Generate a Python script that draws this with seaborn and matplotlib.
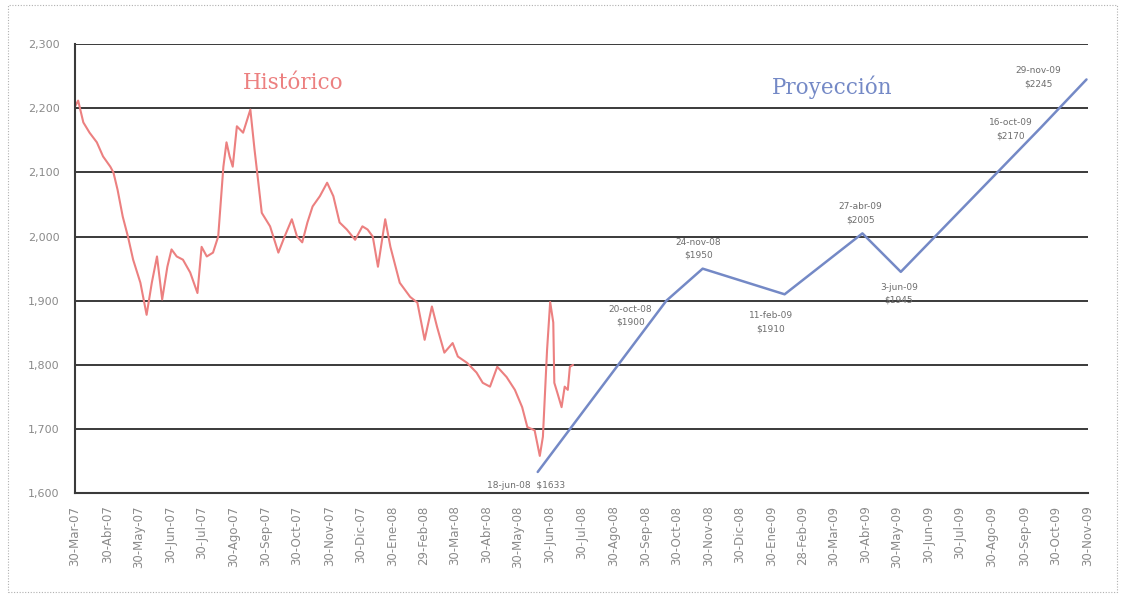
import matplotlib
matplotlib.use("Agg")
import matplotlib.pyplot as plt
import matplotlib.ticker as mticker
from matplotlib.patches import Rectangle
import pandas as pd
import seaborn as sns

# Historical price series
hist_dates = [
    "2007-03-30", "2007-04-02", "2007-04-07", "2007-04-13", "2007-04-20", "2007-04-26",
    "2007-05-03", "2007-05-06", "2007-05-10", "2007-05-15", "2007-05-20", "2007-05-25",
    "2007-06-01", "2007-06-07", "2007-06-12", "2007-06-17", "2007-06-22", "2007-06-27",
    "2007-07-01", "2007-07-06", "2007-07-12", "2007-07-19", "2007-07-26", "2007-07-30",
    "2007-08-04", "2007-08-10", "2007-08-15", "2007-08-20", "2007-08-23", "2007-08-26",
    "2007-08-29", "2007-09-02", "2007-09-08", "2007-09-15", "2007-09-19", "2007-09-22",
    "2007-09-26", "2007-10-04", "2007-10-12", "2007-10-18", "2007-10-25", "2007-10-30",
    "2007-11-04", "2007-11-09", "2007-11-14", "2007-11-21", "2007-11-28", "2007-12-04",
    "2007-12-10", "2007-12-17", "2007-12-25", "2008-01-01", "2008-01-06", "2008-01-11",
    "2008-01-16", "2008-01-23", "2008-01-28", "2008-02-06", "2008-02-16", "2008-02-23",
    "2008-03-01", "2008-03-08", "2008-03-13", "2008-03-20", "2008-03-28", "2008-04-02",
    "2008-04-11", "2008-04-20", "2008-04-26", "2008-05-03", "2008-05-10", "2008-05-19",
    "2008-05-27", "2008-06-03", "2008-06-08", "2008-06-15", "2008-06-20", "2008-06-23",
    "2008-06-27", "2008-06-30", "2008-07-03", "2008-07-04", "2008-07-07", "2008-07-11",
    "2008-07-14", "2008-07-17", "2008-07-19", "2008-07-22",
]
hist_values = [
    2203, 2212, 2178, 2162, 2147, 2125,
    2109, 2100, 2073, 2031, 2000, 1964,
    1928, 1878, 1928, 1969, 1902, 1953,
    1980, 1969, 1964, 1944, 1912, 1984,
    1969, 1975, 2000, 2109, 2147, 2125,
    2109, 2172, 2162, 2198, 2136, 2094,
    2037, 2016, 1975, 2000, 2027, 2000,
    1991, 2022, 2047, 2063, 2084, 2063,
    2022, 2011, 1995, 2016, 2011, 2000,
    1953, 2027, 1984, 1928, 1906, 1897,
    1839, 1891, 1859, 1819, 1834, 1813,
    1803, 1788, 1772, 1766, 1797, 1781,
    1761, 1734, 1703, 1698, 1658, 1688,
    1823, 1898, 1866, 1772, 1756, 1734,
    1766, 1761, 1797, 1800,
]

# Projection milestones
proj_dates = ["2008-06-18", "2008-10-20", "2008-11-24", "2009-02-11",
              "2009-04-27", "2009-06-03", "2009-10-16", "2009-11-29"]
proj_values = [1633, 1900, 1950, 1910, 2005, 1945, 2170, 2245]
proj_names = ["18-jun-08", "20-oct-08", "24-nov-08", "11-feb-09",
              "27-abr-09", "3-jun-09", "16-oct-09", "29-nov-09"]

# Axis tick dates and labels
tick_dates = [
    "2007-03-30", "2007-04-30", "2007-05-30", "2007-06-30", "2007-07-30", "2007-08-30",
    "2007-09-30", "2007-10-30", "2007-11-30", "2007-12-30", "2008-01-30", "2008-02-29",
    "2008-03-30", "2008-04-30", "2008-05-30", "2008-06-30", "2008-07-30", "2008-08-30",
    "2008-09-30", "2008-10-30", "2008-11-30", "2008-12-30", "2009-01-30", "2009-02-28",
    "2009-03-30", "2009-04-30", "2009-05-30", "2009-06-30", "2009-07-30", "2009-08-30",
    "2009-09-30", "2009-10-30", "2009-11-30",
]
tick_labels = [
    "30-Mar-07", "30-Abr-07", "30-May-07", "30-Jun-07", "30-Jul-07", "30-Ago-07",
    "30-Sep-07", "30-Oct-07", "30-Nov-07", "30-Dic-07", "30-Ene-08", "29-Feb-08",
    "30-Mar-08", "30-Abr-08", "30-May-08", "30-Jun-08", "30-Jul-08", "30-Ago-08",
    "30-Sep-08", "30-Oct-08", "30-Nov-08", "30-Dic-08", "30-Ene-09", "28-Feb-09",
    "30-Mar-09", "30-Abr-09", "30-May-09", "30-Jun-09", "30-Jul-09", "30-Ago-09",
    "30-Sep-09", "30-Oct-09", "30-Nov-09",
]
y_ticks = [1600, 1700, 1800, 1900, 2000, 2100, 2200, 2300]

RED = "#ec8080"
BLUE = "#7489c6"
GRID = "#3a3a3a"
LABEL = "#8a8a8a"

sns.set_theme(style="white")
plt.rcParams["font.family"] = ["DejaVu Sans"]

hist = pd.DataFrame({"fecha": pd.to_datetime(hist_dates), "precio": hist_values})
proj = pd.DataFrame({"fecha": pd.to_datetime(proj_dates), "precio": proj_values})

fig = plt.figure(figsize=(11.25, 5.97), dpi=100)
ax = fig.add_axes([0.0667, 0.174, 0.9, 0.752])

sns.lineplot(data=hist, x="fecha", y="precio", ax=ax, color=RED, linewidth=1.5)
sns.lineplot(data=proj, x="fecha", y="precio", ax=ax, color=BLUE, linewidth=1.8)

ax.set_ylim(1600, 2300)
ax.set_xlim(pd.Timestamp("2007-03-30"), pd.Timestamp("2009-11-30"))
ax.set_xlabel("")
ax.set_ylabel("")

ax.set_yticks(y_ticks)
ax.yaxis.set_major_formatter(mticker.FuncFormatter(lambda v, p: f"{int(v):,}"))
for yv in y_ticks[1:]:
    ax.axhline(yv, color=GRID, linewidth=1.4, zorder=0)

ax.set_xticks(pd.to_datetime(tick_dates))
ax.set_xticklabels(tick_labels, rotation=90)

for side in ("top", "right"):
    ax.spines[side].set_visible(False)
for side in ("left", "bottom"):
    ax.spines[side].set_color(GRID)
    ax.spines[side].set_linewidth(1.5)

ax.tick_params(axis="y", direction="out", length=7, width=1.3, color=GRID,
               labelsize=8, labelcolor=LABEL, pad=4)
ax.tick_params(axis="x", direction="out", length=5, width=1.2, color=GRID,
               labelsize=8.5, labelcolor=LABEL, pad=4)

# Section headers
ax.text(pd.Timestamp("2007-09-08"), 2240, "Histórico", color=RED, fontsize=15.5,
        family="DejaVu Serif", ha="left", va="center")
ax.text(pd.Timestamp("2009-01-30"), 2233, "Proyección", color=BLUE, fontsize=15.5,
        family="DejaVu Serif", ha="left", va="center")

# Milestone labels (offsets in pixels)
offsets = [(-12, -14), (-36, -15), (-4, 20), (-14, -28), (-2, 20), (-2, -22), (-30, -2), (-48, 2)]
for d, v, name, (dx, dy) in zip(proj["fecha"], proj_values, proj_names, offsets):
    if name == "18-jun-08":
        txt = f"{name}  ${v}"
    else:
        txt = f"{name}\n${v}"
    ax.annotate(txt, xy=(d, v), xytext=(dx, dy), textcoords="offset pixels",
                ha="center", va="center", fontsize=6.5, color="#6e6e6e",
                linespacing=1.6)

# Dotted outer frame
fig.patches.append(Rectangle((0.007, 0.008), 0.986, 0.984, transform=fig.transFigure,
                             fill=False, linestyle=(0, (1, 1.5)), linewidth=0.8,
                             edgecolor="#b0b0b0"))

fig.savefig("out.png", dpi=100, facecolor="white")
